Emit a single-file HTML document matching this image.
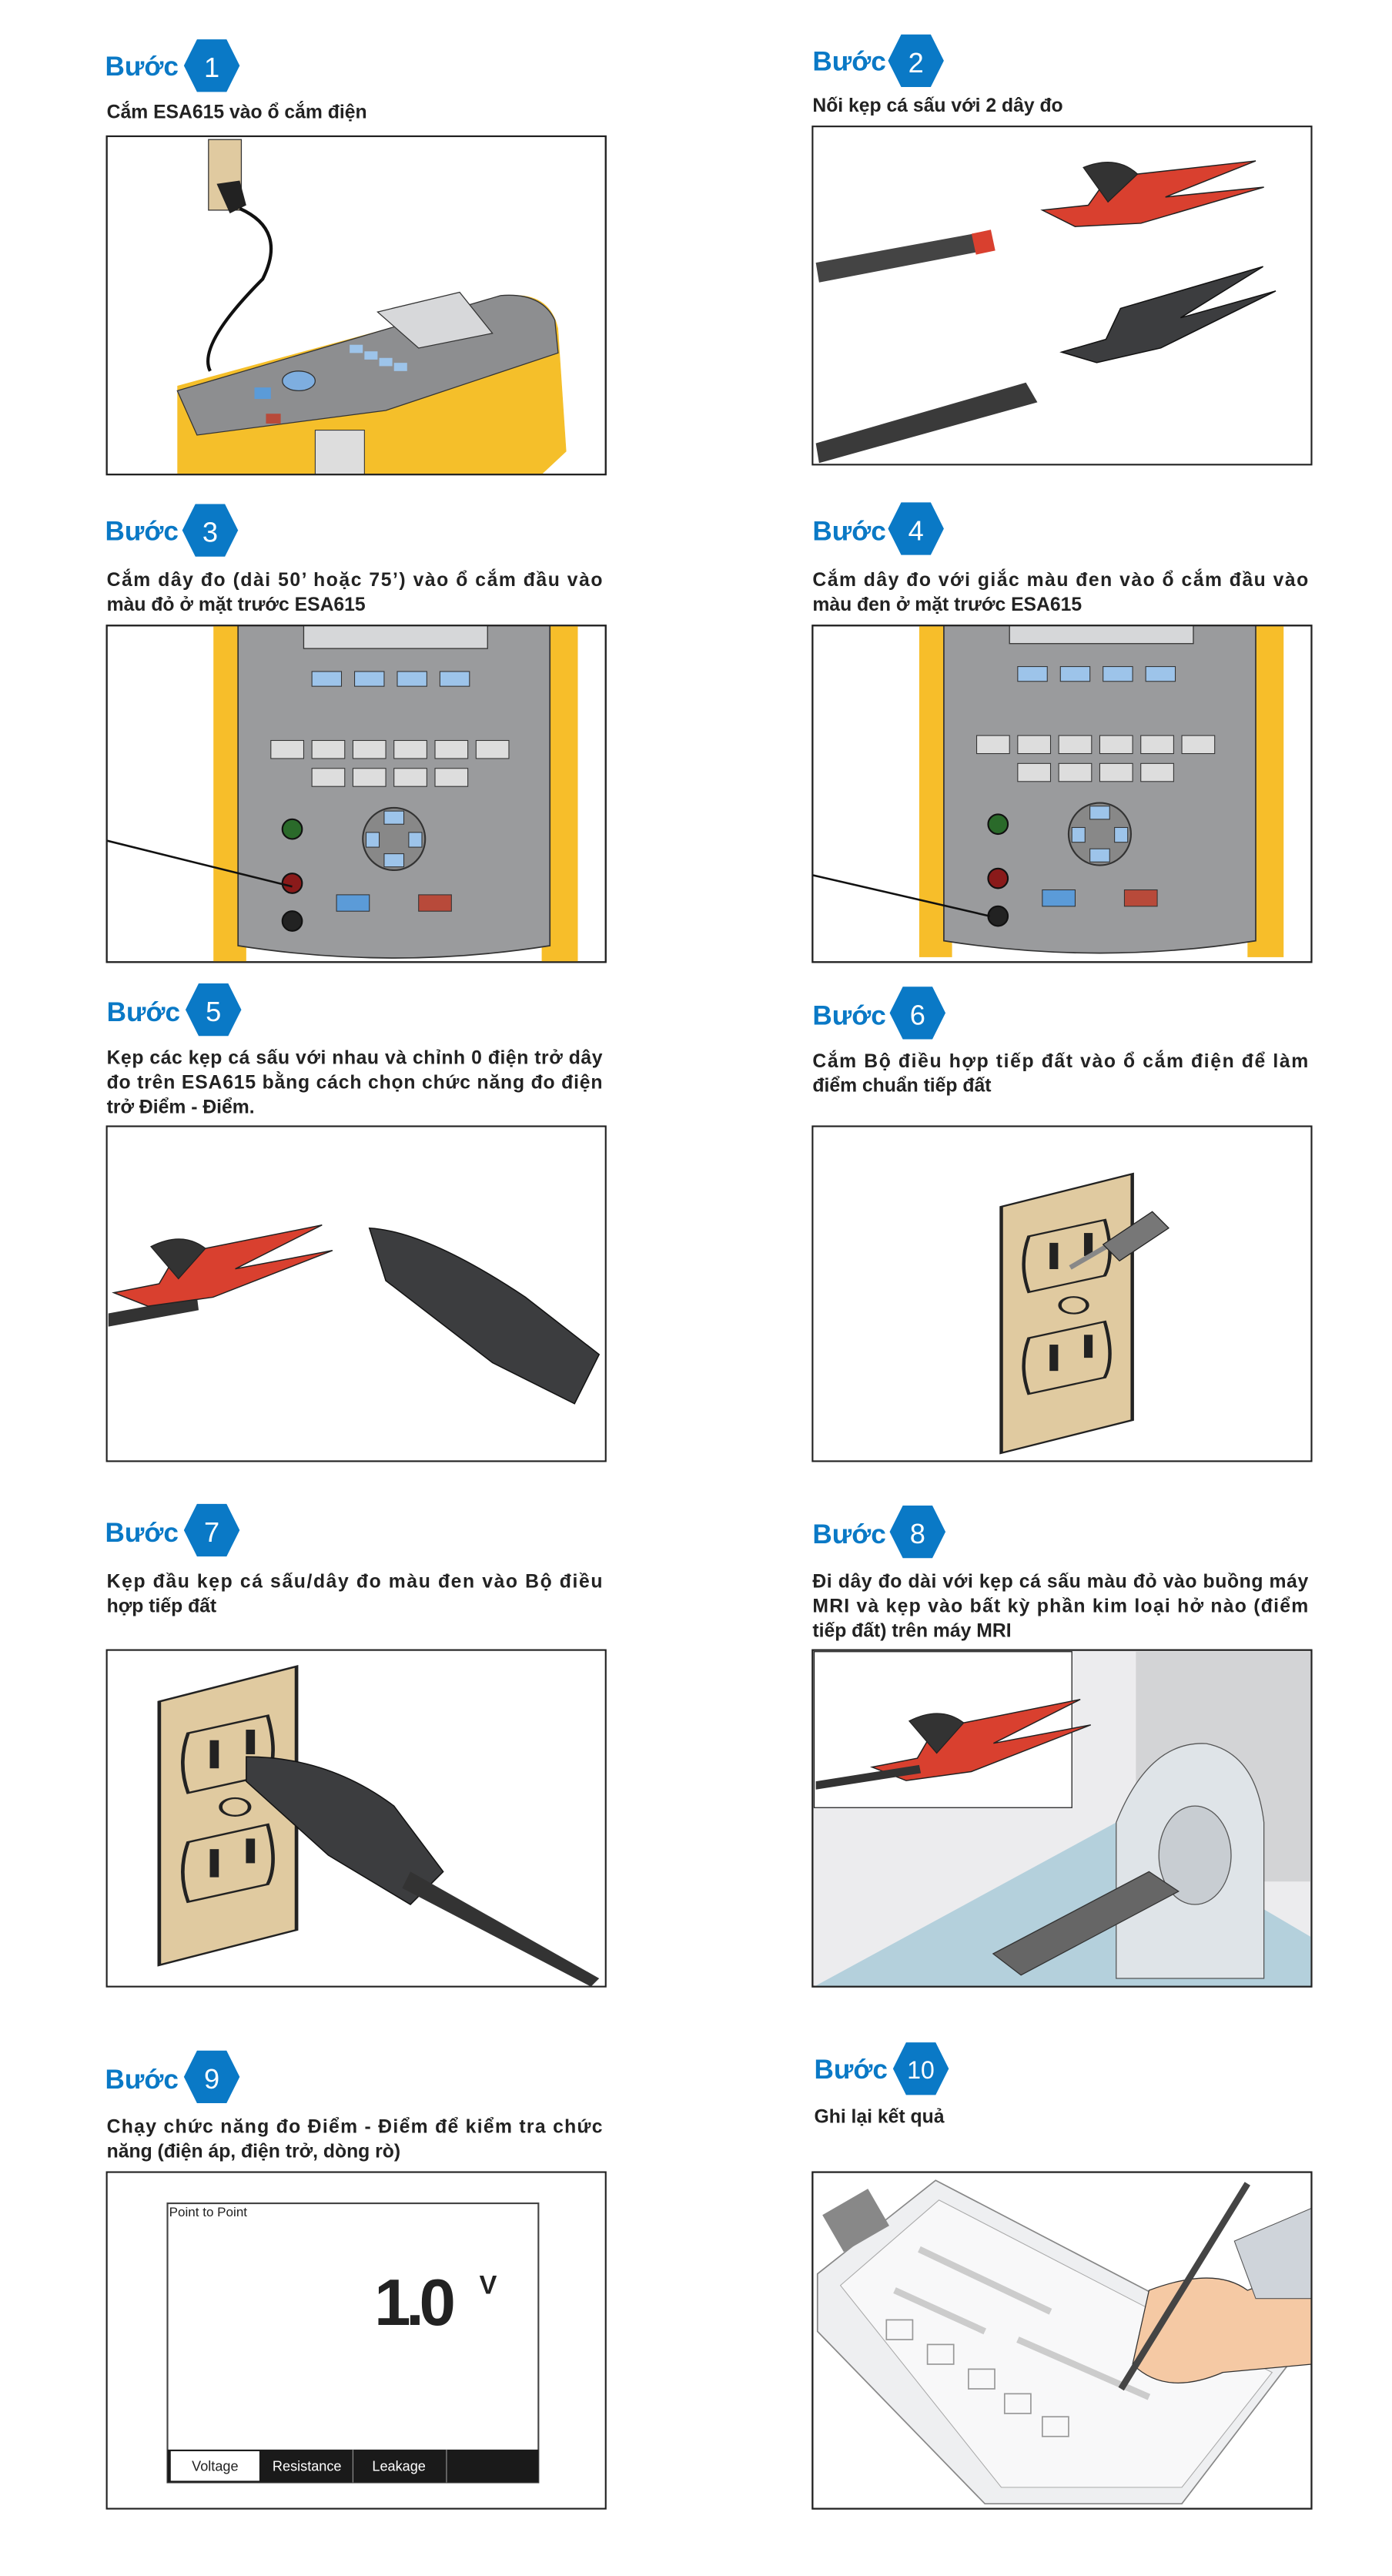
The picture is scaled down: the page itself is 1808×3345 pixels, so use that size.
<!DOCTYPE html>
<html><head><meta charset="utf-8"><style>
html,body{margin:0;padding:0;background:#fff}
svg{display:block}
.b{font-family:"Liberation Sans",sans-serif;fill:#0a79c6;font-size:16.5px;font-weight:bold}
.n{font-family:"Liberation Sans",sans-serif;fill:#fff;font-size:17px;text-anchor:middle}
.t{font-family:"Liberation Sans",sans-serif;font-weight:bold;fill:#222;font-size:11.6px}
.box{fill:#fff;stroke:#222;stroke-width:1}
.hx{fill:#0a79c6}
</style></head><body>
<svg width="1808" height="3345" viewBox="0 0 848 1569" xmlns="http://www.w3.org/2000/svg">
<defs>
<clipPath id="c1"><rect x="65" y="83" width="304" height="206"/></clipPath>
<clipPath id="c2"><rect x="495" y="77" width="304" height="206"/></clipPath>
<clipPath id="c3"><rect x="65" y="381" width="304" height="205"/></clipPath>
<clipPath id="c4"><rect x="495" y="381" width="304" height="205"/></clipPath>
<clipPath id="c8"><rect x="495" y="1005" width="304" height="205"/></clipPath>
<clipPath id="c10"><rect x="495" y="1323" width="304" height="205"/></clipPath>
<g id="hex"><polygon class="hx" points="-17,0 -9,-16 9,-16 17,0 9,16 -9,16"/></g>
<g id="plate">
<path d="M0,20 L38,0 L38,150 L0,170 Z" fill="#e0caa0" stroke="#222" stroke-width="1"/>
<path d="M8,38 L30,28 Q33,50 30,62 L8,72 Q5,55 8,38Z" fill="#e0caa0" stroke="#222"/>
<rect x="14" y="42" width="2.5" height="16" fill="#222"/><rect x="24" y="36" width="2.5" height="14" fill="#222"/>
<ellipse cx="21" cy="80" rx="4" ry="5" fill="#e0caa0" stroke="#222"/>
<path d="M8,100 L30,90 Q33,112 30,124 L8,134 Q5,117 8,100Z" fill="#e0caa0" stroke="#222"/>
<rect x="14" y="104" width="2.5" height="16" fill="#222"/><rect x="24" y="98" width="2.5" height="14" fill="#222"/>
</g>
<g id="front">
<rect x="0" y="0" width="20" height="205" fill="#f7be2a"/>
<rect x="200" y="0" width="22" height="205" fill="#f7be2a"/>
<path d="M15,0 L205,0 L205,195 Q110,210 15,195 Z" fill="#9a9b9d" stroke="#333" stroke-width=".8"/>
<rect x="55" y="0" width="112" height="14" fill="#d6d7d9" stroke="#333" stroke-width=".6"/>
<g fill="#9dc4ea" stroke="#333" stroke-width=".5"><rect x="60" y="28" width="18" height="9"/><rect x="86" y="28" width="18" height="9"/><rect x="112" y="28" width="18" height="9"/><rect x="138" y="28" width="18" height="9"/></g>
<g fill="#ddd" stroke="#333" stroke-width=".5"><rect x="35" y="70" width="20" height="11"/><rect x="60" y="70" width="20" height="11"/><rect x="85" y="70" width="20" height="11"/><rect x="110" y="70" width="20" height="11"/><rect x="135" y="70" width="20" height="11"/><rect x="160" y="70" width="20" height="11"/><rect x="60" y="87" width="20" height="11"/><rect x="85" y="87" width="20" height="11"/><rect x="110" y="87" width="20" height="11"/><rect x="135" y="87" width="20" height="11"/></g>
<circle cx="48" cy="124" r="6" fill="#2a6a2a" stroke="#111"/>
<circle cx="48" cy="157" r="6" fill="#8a1a1a" stroke="#111"/>
<circle cx="48" cy="180" r="6" fill="#222" stroke="#111"/>
<circle cx="110" cy="130" r="19" fill="#888" stroke="#333"/>
<g fill="#9dc4ea" stroke="#333" stroke-width=".5"><rect x="104" y="113" width="12" height="8"/><rect x="104" y="139" width="12" height="8"/><rect x="93" y="126" width="8" height="9"/><rect x="119" y="126" width="8" height="9"/></g>
<rect x="75" y="164" width="20" height="10" fill="#5b9bd8" stroke="#333" stroke-width=".5"/>
<rect x="125" y="164" width="20" height="10" fill="#b84a3a" stroke="#333" stroke-width=".5"/>
</g>
<g id="redclip">
<path d="M0,30 L28,27 L40,10 L130,0 L75,22 L135,16 L60,38 L20,40 Z" fill="#d9402f" stroke="#222" stroke-width=".7"/>
<path d="M25,4 Q45,-4 58,8 L40,25 Z" fill="#333" stroke="#222" stroke-width=".6"/>
</g>
<g id="blkclip">
<path d="M0,30 L28,27 L40,10 L130,0 L75,22 L135,16 L60,38 L20,40 Z" fill="#3c3d3f" stroke="#111" stroke-width=".7"/>
</g>
</defs>

<!-- Step 1 -->
<text class="b" x="64" y="46">Bước</text><use href="#hex" x="129" y="40"/><text class="n" x="129" y="47">1</text>
<text class="t" x="65" y="72">Cắm ESA615 vào ổ cắm điện</text>
<rect class="box" x="65" y="83" width="304" height="206"/>
<g clip-path="url(#c1)">
<rect x="127" y="85" width="20" height="43" fill="#e0caa0" stroke="#333" stroke-width=".6"/>
<path d="M132,112 L146,110 L150,125 L140,130Z" fill="#222"/>
<path d="M146,127 Q175,140 160,170 Q120,210 128,226" fill="none" stroke="#111" stroke-width="2"/>
<path d="M108,289 L108,235 L310,180 Q335,178 340,200 L345,275 L330,289Z" fill="#f5bf2a"/>
<path d="M108,238 L305,180 Q330,178 338,195 L340,215 L235,250 L120,265 Z" fill="#8d8e90" stroke="#333" stroke-width=".6"/>
<polygon points="230,190 280,178 300,203 255,212" fill="#d7d8da" stroke="#333" stroke-width=".6"/>
<g fill="#9dc4ea"><rect x="213" y="210" width="8" height="5"/><rect x="222" y="214" width="8" height="5"/><rect x="231" y="218" width="8" height="5"/><rect x="240" y="221" width="8" height="5"/></g>
<ellipse cx="182" cy="232" rx="10" ry="6" fill="#7eaee0" stroke="#333" stroke-width=".6"/>
<rect x="155" y="236" width="10" height="7" fill="#5b9bd8"/><rect x="162" y="252" width="9" height="6" fill="#b84a3a"/>
<rect x="192" y="262" width="30" height="27" fill="#ddd" stroke="#333" stroke-width=".5"/>
</g>
<rect class="box" x="65" y="83" width="304" height="206" style="fill:none"/>

<!-- Step 2 -->
<text class="b" x="495" y="43">Bước</text><use href="#hex" x="558" y="37"/><text class="n" x="558" y="44">2</text>
<text class="t" x="495" y="68">Nối kẹp cá sấu với 2 dây đo</text>
<rect class="box" x="495" y="77" width="304" height="206"/>
<g clip-path="url(#c2)">
<path d="M497,160 L595,142 L598,153 L499,172Z" fill="#444"/>
<rect x="593" y="141" width="12" height="13" fill="#d9402f" transform="rotate(-12 599 147)"/>
<use href="#redclip" x="635" y="98"/>
<use href="#blkclip" x="645" y="175" transform="rotate(-10 700 200)"/>
<path d="M497,270 L625,233 L632,245 L499,282Z" fill="#3a3a3a"/>
</g>

<!-- Step 3 -->
<text class="b" x="64" y="329">Bước</text><use href="#hex" x="128" y="323"/><text class="n" x="128" y="330">3</text>
<text class="t" x="65" y="357" textLength="302">Cắm dây đo (dài 50’ hoặc 75’) vào ổ cắm đầu vào</text>
<text class="t" x="65" y="372">màu đỏ ở mặt trước ESA615</text>
<rect class="box" x="65" y="381" width="304" height="205"/>
<g clip-path="url(#c3)"><use href="#front" x="130" y="381"/>
<line x1="65" y1="512" x2="178" y2="540" stroke="#111" stroke-width="1.2"/></g>
<rect class="box" x="65" y="381" width="304" height="205" style="fill:none"/>

<!-- Step 4 -->
<text class="b" x="495" y="329">Bước</text><use href="#hex" x="558" y="322"/><text class="n" x="558" y="329">4</text>
<text class="t" x="495" y="357" textLength="302">Cắm dây đo với giắc màu đen vào ổ cắm đầu vào</text>
<text class="t" x="495" y="372">màu đen ở mặt trước ESA615</text>
<rect class="box" x="495" y="381" width="304" height="205"/>
<g clip-path="url(#c4)"><use href="#front" x="560" y="378"/>
<line x1="495" y1="533" x2="603" y2="558" stroke="#111" stroke-width="1.2"/></g>
<rect class="box" x="495" y="381" width="304" height="205" style="fill:none"/>

<!-- Step 5 -->
<text class="b" x="65" y="622">Bước</text><use href="#hex" x="130" y="615"/><text class="n" x="130" y="622">5</text>
<text class="t" x="65" y="648" textLength="302">Kẹp các kẹp cá sấu với nhau và chỉnh 0 điện trở dây</text>
<text class="t" x="65" y="663" textLength="302">đo trên ESA615 bằng cách chọn chức năng đo điện</text>
<text class="t" x="65" y="678">trở Điểm - Điểm.</text>
<rect class="box" x="65" y="686" width="304" height="204"/>
<path d="M66,800 L120,790 L121,798 L66,808Z" fill="#333"/>
<use href="#redclip" x="68" y="752" transform="rotate(-5 130 770)"/>
<path d="M225,748 Q260,750 320,790 L365,825 L350,855 L300,830 L235,780 Z" fill="#3c3d3f" stroke="#111" stroke-width=".7"/>

<!-- Step 6 -->
<text class="b" x="495" y="624">Bước</text><use href="#hex" x="559" y="617"/><text class="n" x="559" y="624">6</text>
<text class="t" x="495" y="650" textLength="302">Cắm Bộ điều hợp tiếp đất vào ổ cắm điện để làm</text>
<text class="t" x="495" y="665">điểm chuẩn tiếp đất</text>
<rect class="box" x="495" y="686" width="304" height="204"/>
<use href="#plate" transform="translate(610,715) scale(2.1,1.0)"/>
<path d="M652,772 L690,750" stroke="#888" stroke-width="3"/>
<path d="M672,758 L702,738 L712,748 L682,768Z" fill="#777" stroke="#222" stroke-width=".6"/>

<!-- Step 7 -->
<text class="b" x="64" y="939">Bước</text><use href="#hex" x="129" y="932"/><text class="n" x="129" y="939">7</text>
<text class="t" x="65" y="967" textLength="302">Kẹp đầu kẹp cá sấu/dây đo màu đen vào Bộ điều</text>
<text class="t" x="65" y="982">hợp tiếp đất</text>
<rect class="box" x="65" y="1005" width="304" height="205"/>
<use href="#plate" transform="translate(97,1015) scale(2.2,1.07)"/>
<path d="M150,1070 Q200,1070 240,1100 L270,1140 L250,1160 L200,1130 L150,1085Z" fill="#3c3d3f" stroke="#111" stroke-width=".7"/>
<path d="M250,1140 L365,1205 L360,1210 L245,1150Z" fill="#333"/>

<!-- Step 8 -->
<text class="b" x="495" y="940">Bước</text><use href="#hex" x="559" y="933"/><text class="n" x="559" y="940">8</text>
<text class="t" x="495" y="967" textLength="302">Đi dây đo dài với kẹp cá sấu màu đỏ vào buồng máy</text>
<text class="t" x="495" y="982" textLength="302">MRI và kẹp vào bất kỳ phần kim loại hở nào (điểm</text>
<text class="t" x="495" y="997">tiếp đất) trên máy MRI</text>
<rect x="495" y="1005" width="304" height="205" fill="#ececee" stroke="#222"/>
<g clip-path="url(#c8)">
<rect x="692" y="1006" width="107" height="140" fill="#d3d4d6"/>
<polygon points="496,1210 680,1110 799,1180 799,1210" fill="#b4d0dc"/>
<rect x="496" y="1006" width="157" height="95" fill="#fff" stroke="#222" stroke-width=".6"/>
<use href="#redclip" x="530" y="1042" transform="rotate(-5 580 1060)"/>
<path d="M497,1085 L560,1075 L561,1080 L497,1090Z" fill="#333"/>
<path d="M680,1205 L680,1110 Q700,1060 735,1062 Q765,1068 770,1110 L770,1205Z" fill="#dfe4e8" stroke="#555" stroke-width=".6"/>
<ellipse cx="728" cy="1130" rx="22" ry="30" fill="#c8cdd2" stroke="#555" stroke-width=".6"/>
<polygon points="605,1190 700,1140 718,1152 622,1203" fill="#666" stroke="#333" stroke-width=".6"/>
</g>
<rect class="box" x="495" y="1005" width="304" height="205" style="fill:none"/>

<!-- Step 9 -->
<text class="b" x="64" y="1272">Bước</text><use href="#hex" x="129" y="1265"/><text class="n" x="129" y="1272">9</text>
<text class="t" x="65" y="1299" textLength="302">Chạy chức năng đo Điểm - Điểm để kiểm tra chức</text>
<text class="t" x="65" y="1314">năng (điện áp, điện trở, dòng rò)</text>
<rect class="box" x="65" y="1323" width="304" height="205"/>
<rect x="102" y="1342" width="226" height="170" fill="#fff" stroke="#444" stroke-width="1"/>
<text x="103" y="1350" font-family="Liberation Sans,sans-serif" font-size="8" fill="#222">Point to Point</text>
<text x="228" y="1416" font-family="Liberation Sans,sans-serif" font-size="40" font-weight="bold" fill="#222" letter-spacing="-3">1.0</text>
<text x="292" y="1397" font-family="Liberation Sans,sans-serif" font-size="16" font-weight="bold" fill="#222">V</text>
<rect x="102" y="1492" width="226" height="20" fill="#1a1a1a"/>
<rect x="104" y="1493" width="54" height="18" fill="#fff"/>
<line x1="215" y1="1492" x2="215" y2="1512" stroke="#888" stroke-width=".6"/>
<line x1="272" y1="1492" x2="272" y2="1512" stroke="#888" stroke-width=".6"/>
<text x="131" y="1505" text-anchor="middle" font-family="Liberation Sans,sans-serif" font-size="8.5" fill="#222">Voltage</text>
<text x="187" y="1505" text-anchor="middle" font-family="Liberation Sans,sans-serif" font-size="8.5" fill="#fff">Resistance</text>
<text x="243" y="1505" text-anchor="middle" font-family="Liberation Sans,sans-serif" font-size="8.5" fill="#fff">Leakage</text>

<!-- Step 10 -->
<text class="b" x="496" y="1266">Bước</text><use href="#hex" x="561" y="1260"/><text class="n" x="561" y="1266" style="font-size:15px">10</text>
<text class="t" x="496" y="1293">Ghi lại kết quả</text>
<rect class="box" x="495" y="1323" width="304" height="205"/>
<g clip-path="url(#c10)">
<polygon points="498,1385 570,1328 785,1440 720,1525 600,1525 498,1420" fill="#eeeff1" stroke="#888" stroke-width=".8"/>
<polygon points="512,1392 572,1340 775,1445 720,1515 610,1515" fill="#f8f8f9" stroke="#aaa" stroke-width=".5"/>
<rect x="505" y="1340" width="32" height="26" fill="#888" transform="rotate(-30 520 1352)"/>
<g stroke="#ccc" stroke-width="4"><line x1="560" y1="1370" x2="640" y2="1408"/><line x1="545" y1="1395" x2="600" y2="1420"/><line x1="620" y1="1425" x2="700" y2="1460"/></g>
<g fill="none" stroke="#999" stroke-width=".8"><rect x="540" y="1413" width="16" height="12"/><rect x="565" y="1428" width="16" height="12"/><rect x="590" y="1443" width="16" height="12"/><rect x="612" y="1458" width="16" height="12"/><rect x="635" y="1472" width="16" height="12"/></g>
<path d="M700,1395 Q740,1380 760,1395 L799,1380 L799,1440 L745,1445 Q710,1460 690,1440Z" fill="#f5c9a4" stroke="#333" stroke-width=".6"/>
<polygon points="752,1365 799,1345 799,1400 765,1400" fill="#cfd4da" stroke="#555" stroke-width=".5"/>
<line x1="760" y1="1330" x2="683" y2="1455" stroke="#444" stroke-width="4"/>
</g>
<rect class="box" x="495" y="1323" width="304" height="205" style="fill:none"/>
</svg>
</body></html>
